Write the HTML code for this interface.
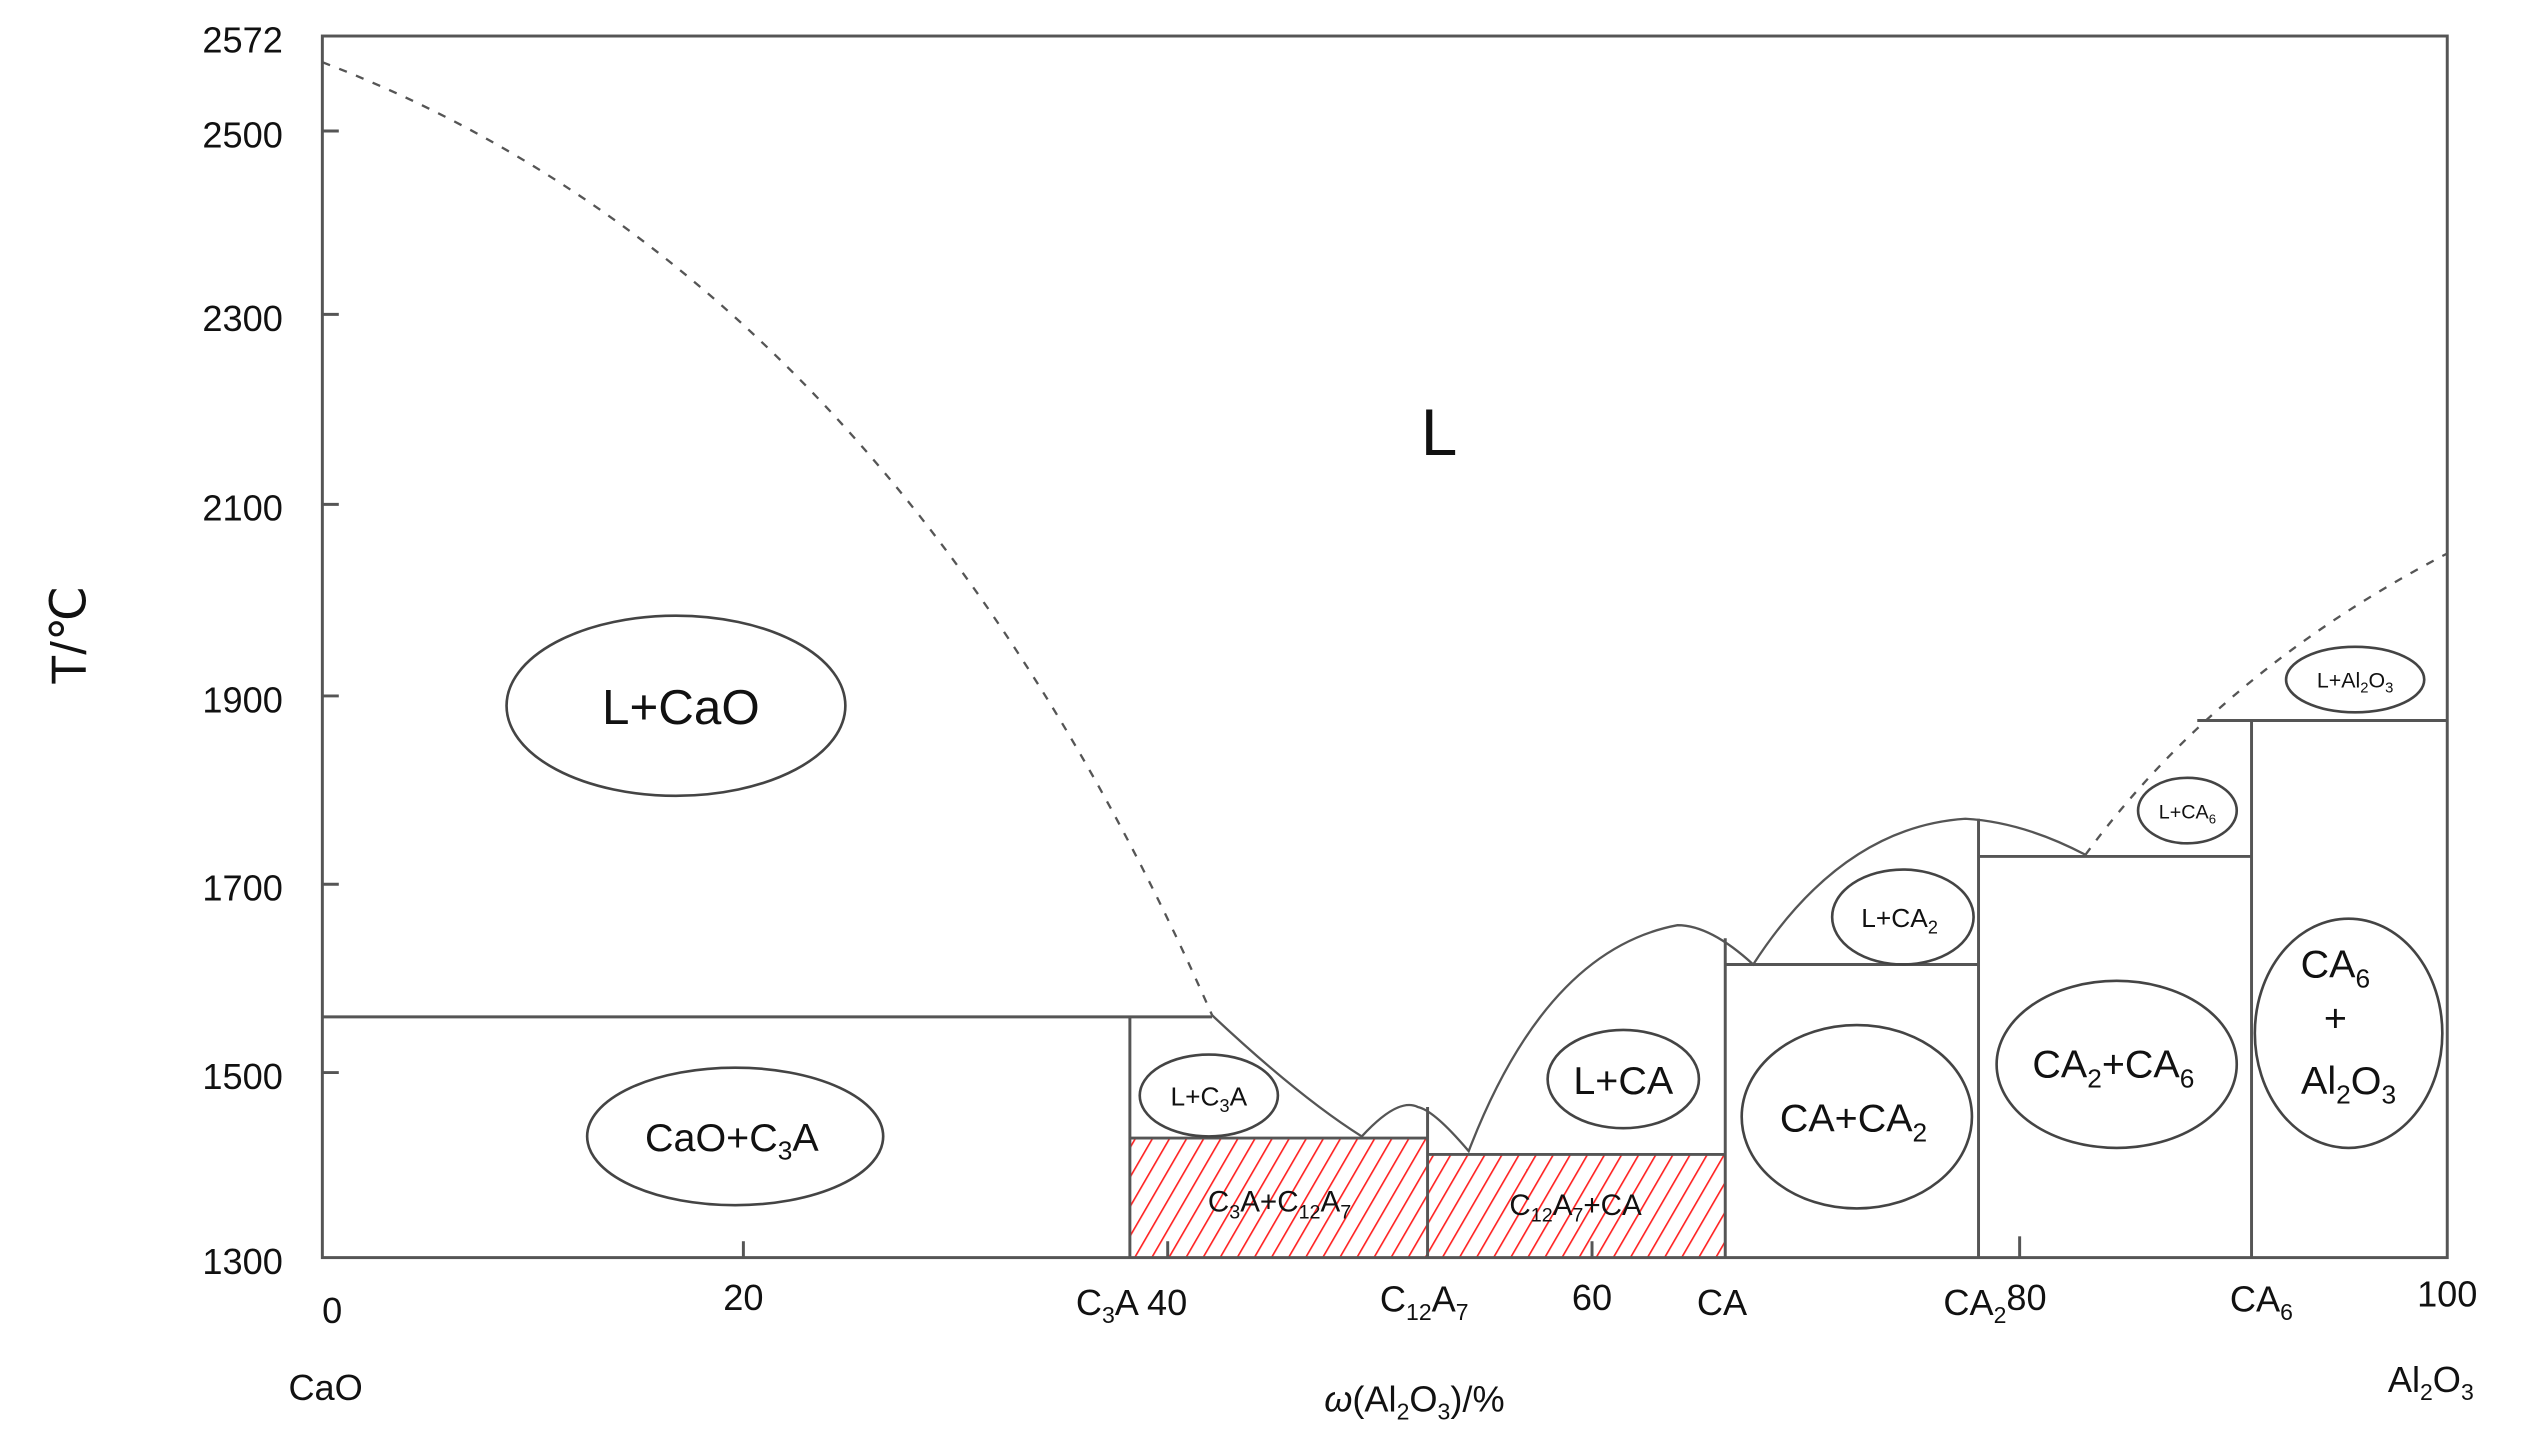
<!DOCTYPE html>
<html><head><meta charset="utf-8"><style>
html,body{margin:0;padding:0;background:#fff;width:2541px;height:1441px;overflow:hidden}
svg{display:block}
text{font-family:"Liberation Sans",Arial,sans-serif;fill:#111}
</style></head><body>
<svg width="2541" height="1441" viewBox="0 0 1545 880" preserveAspectRatio="none" xmlns="http://www.w3.org/2000/svg">
<defs>
<pattern id="h" patternUnits="userSpaceOnUse" width="9" height="9" patternTransform="rotate(30)">
<line x1="0" y1="0" x2="0" y2="9" stroke="#f22" stroke-width="2"/>
</pattern>
</defs>
<rect x="0" y="0" width="1545" height="880" fill="#fff"/>
<!-- hatched -->
<rect x="687" y="695" width="181" height="73" fill="url(#h)"/>
<rect x="868" y="705" width="181" height="63" fill="url(#h)"/>
<g stroke="#555" stroke-width="1.8" fill="none">
<rect x="196" y="22" width="1292" height="746"/>
<!-- y ticks -->
<line x1="196" y1="80" x2="206" y2="80"/><line x1="196" y1="192" x2="206" y2="192"/>
<line x1="196" y1="308" x2="206" y2="308"/><line x1="196" y1="425" x2="206" y2="425"/>
<line x1="196" y1="540" x2="206" y2="540"/><line x1="196" y1="655" x2="206" y2="655"/>
<!-- x ticks -->
<line x1="452" y1="758" x2="452" y2="768"/><line x1="710" y1="758" x2="710" y2="768"/>
<line x1="968" y1="758" x2="968" y2="768"/><line x1="1228" y1="755" x2="1228" y2="768"/>
<!-- phase lines -->
<line x1="196" y1="621" x2="737" y2="621"/>
<line x1="687" y1="621" x2="687" y2="768"/>
<line x1="687" y1="695" x2="868" y2="695"/>
<line x1="868" y1="676" x2="868" y2="768"/>
<line x1="868" y1="705" x2="1049" y2="705"/>
<line x1="1049" y1="573" x2="1049" y2="768"/>
<line x1="1049" y1="589" x2="1203" y2="589"/>
<line x1="1203" y1="500" x2="1203" y2="768"/>
<line x1="1203" y1="523" x2="1369" y2="523"/>
<line x1="1369" y1="440" x2="1369" y2="768"/>
<line x1="1336" y1="440" x2="1488" y2="440"/>
<!-- liquidus solid -->
<path d="M737,620 Q790,670 828,694 Q850,670 862,676 Q872,678 893,703 Q940,580 1020,565 Q1040,565 1066,589 Q1120,505 1195,500 Q1230,502 1268,522" stroke-width="1.4"/>
</g>
<g stroke="#555" stroke-width="1.4" fill="none" stroke-dasharray="5,6">
<path d="M196,38 Q540,170 737,620"/>
<path d="M1268,522 Q1350,410 1488,338"/>
</g>
<!-- ellipses -->
<g stroke="#444" stroke-width="1.6" fill="none">
<ellipse cx="411" cy="431" rx="103" ry="55"/>
<ellipse cx="447" cy="694" rx="90" ry="42"/>
<ellipse cx="735" cy="669" rx="42" ry="25"/>
<ellipse cx="987" cy="659" rx="46" ry="30"/>
<ellipse cx="1129" cy="682" rx="70" ry="56"/>
<ellipse cx="1287" cy="650" rx="73" ry="51"/>
<ellipse cx="1428" cy="631" rx="57" ry="70"/>
<ellipse cx="1157" cy="560" rx="43" ry="29"/>
<ellipse cx="1330" cy="495" rx="30" ry="20"/>
<ellipse cx="1432" cy="415" rx="42" ry="20"/>
</g>
<!-- labels -->
<g font-size="22" text-anchor="end">
<text x="172" y="32">2572</text><text x="172" y="90">2500</text><text x="172" y="202">2300</text>
<text x="172" y="318">2100</text><text x="172" y="435">1900</text><text x="172" y="550">1700</text>
<text x="172" y="665">1500</text><text x="172" y="778">1300</text>
</g>
<text transform="translate(52,388) rotate(-90)" font-size="30" text-anchor="middle">T/℃</text>
<g font-size="22" text-anchor="middle">
<text x="202" y="808">0</text><text x="452" y="800">20</text>
<text x="688" y="803">C<tspan font-size="14" dy="5">3</tspan><tspan dy="-5">A 40</tspan></text>
<text x="866" y="801">C<tspan font-size="14" dy="5">12</tspan><tspan dy="-5">A</tspan><tspan font-size="14" dy="5">7</tspan></text>
<text x="968" y="800">60</text><text x="1047" y="803">CA</text>
<text x="1213" y="803">CA<tspan font-size="14" dy="5">2</tspan><tspan dy="-8">80</tspan></text>
<text x="1375" y="801">CA<tspan font-size="14" dy="5">6</tspan></text>
<text x="1488" y="798">100</text>
<text x="198" y="855">CaO</text>
<text x="860" y="862"><tspan font-style="italic">ω</tspan>(Al<tspan font-size="14" dy="5">2</tspan><tspan dy="-5">O</tspan><tspan font-size="14" dy="5">3</tspan><tspan dy="-5">)/%</tspan></text>
<text x="1478" y="850">Al<tspan font-size="14" dy="5">2</tspan><tspan dy="-5">O</tspan><tspan font-size="14" dy="5">3</tspan></text>
</g>
<g text-anchor="middle">
<text x="875" y="278" font-size="40">L</text>
<text x="414" y="442" font-size="30">L+CaO</text>
<text x="445" y="703" font-size="24">CaO+C<tspan font-size="16" dy="5">3</tspan><tspan dy="-5">A</tspan></text>
<text x="735" y="675" font-size="16">L+C<tspan font-size="11" dy="4">3</tspan><tspan dy="-4">A</tspan></text>
<text x="987" y="668" font-size="24">L+CA</text>
<text x="1127" y="691" font-size="24">CA+CA<tspan font-size="16" dy="6">2</tspan></text>
<text x="1285" y="658" font-size="24">CA<tspan font-size="16" dy="6">2</tspan><tspan dy="-6">+CA</tspan><tspan font-size="16" dy="6">6</tspan></text>
<text x="1420" y="597" font-size="24">CA<tspan font-size="16" dy="6">6</tspan></text>
<text x="1420" y="630" font-size="24">+</text>
<text x="1428" y="668" font-size="24">Al<tspan font-size="16" dy="6">2</tspan><tspan dy="-6">O</tspan><tspan font-size="16" dy="6">3</tspan></text>
<text x="1155" y="566" font-size="16">L+CA<tspan font-size="11" dy="4">2</tspan></text>
<text x="1330" y="500" font-size="12">L+CA<tspan font-size="8" dy="3">6</tspan></text>
<text x="1432" y="420" font-size="13">L+Al<tspan font-size="9" dy="3">2</tspan><tspan dy="-3">O</tspan><tspan font-size="9" dy="3">3</tspan></text>
<text x="778" y="740" font-size="18" fill="#333">C<tspan font-size="12" dy="4">3</tspan><tspan dy="-4">A+C</tspan><tspan font-size="12" dy="4">12</tspan><tspan dy="-4">A</tspan><tspan font-size="12" dy="4">7</tspan></text>
<text x="958" y="742" font-size="18" fill="#333">C<tspan font-size="12" dy="4">12</tspan><tspan dy="-4">A</tspan><tspan font-size="12" dy="4">7</tspan><tspan dy="-4">+CA</tspan></text>
</g>
</svg>
</body></html>
